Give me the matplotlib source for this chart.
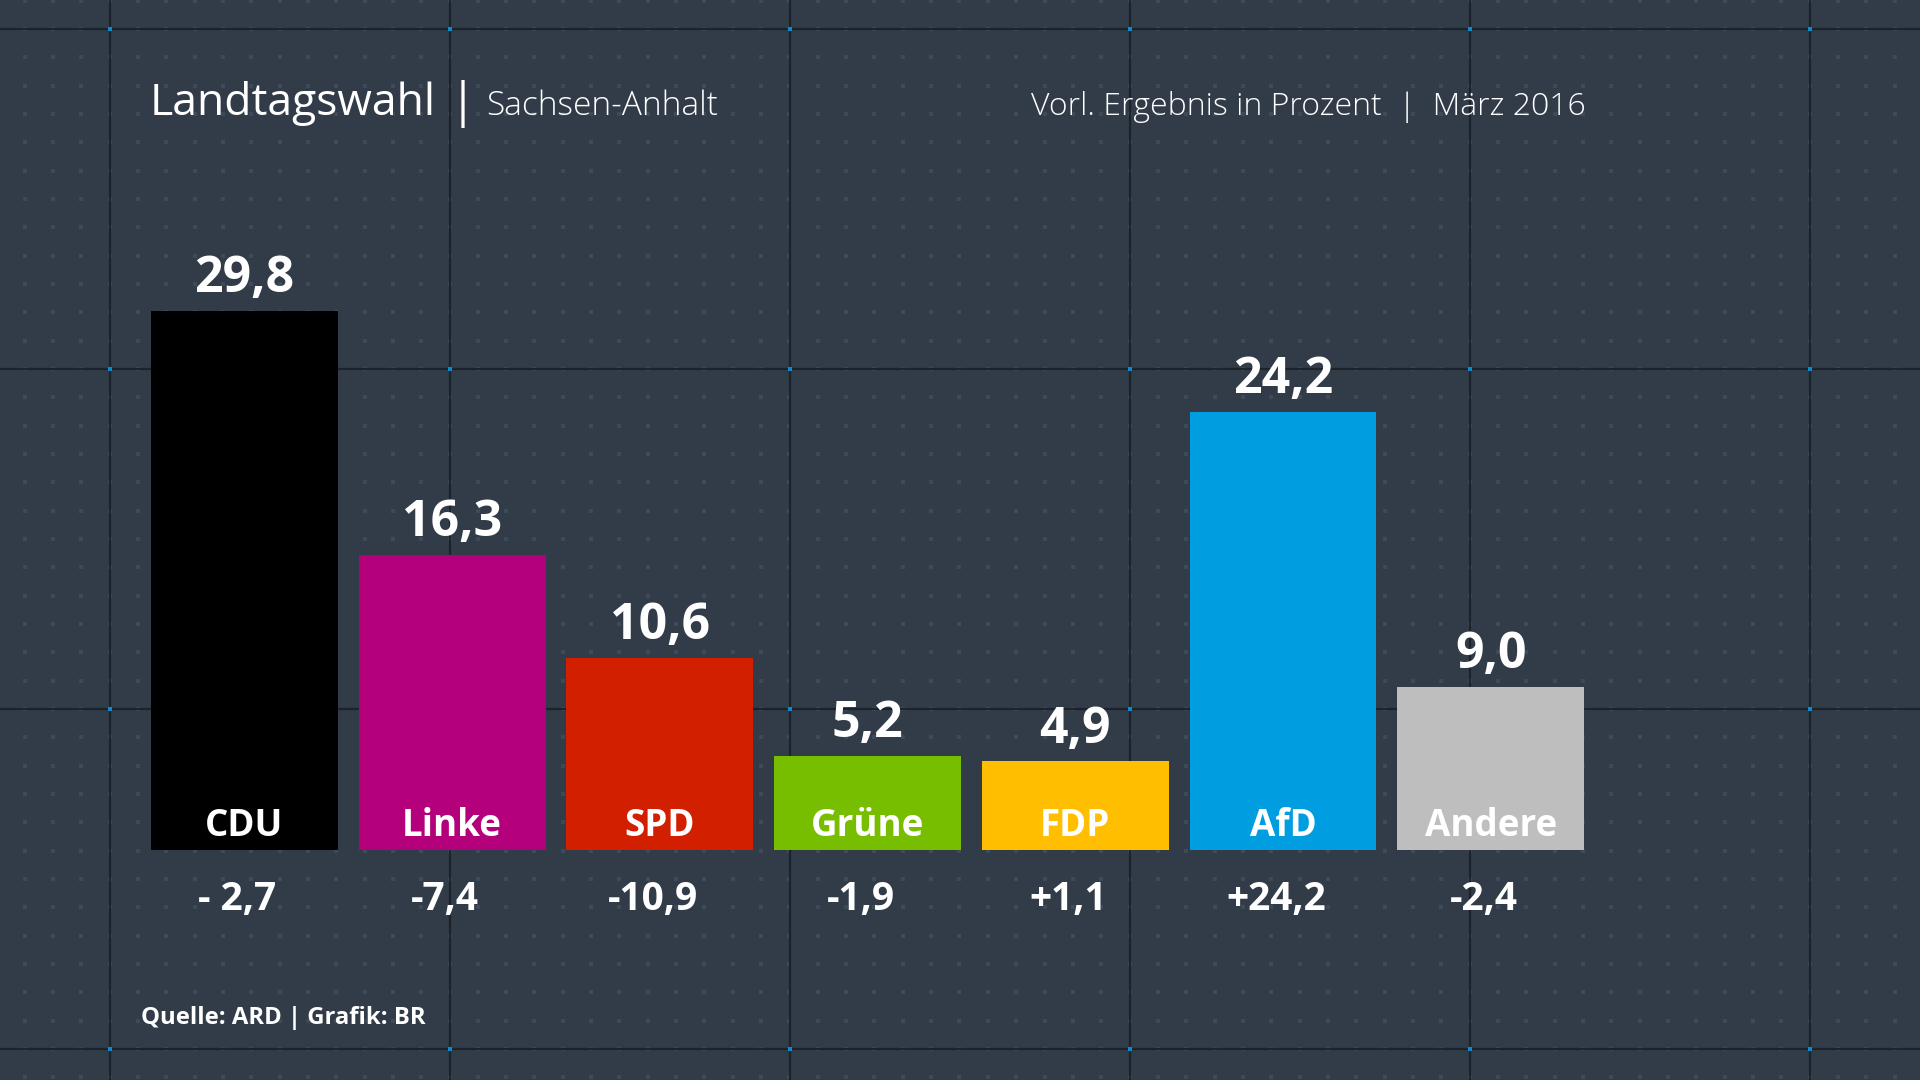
import numpy as np
import matplotlib
matplotlib.use('Agg')
import matplotlib.pyplot as plt

# data
parties = ['CDU', 'Linke', 'SPD', 'Grüne', 'FDP', 'AfD', 'Andere']
results = [29.8, 16.3, 10.6, 5.2, 4.9, 24.2, 9.0]
changes = ['- 2,7', '-7,4', '-10,9', '-1,9', '+1,1', '+24,2', '-2,4']
colors = ['#000000', '#b4007a', '#d11f00', '#77bd00', '#ffbe00', '#009ee0', '#bebebe']

BG = '#323c48'
FONT = 'Open Sans'
W, H = 1920, 1080

fig = plt.figure(figsize=(19.2, 10.8), dpi=100)
fig.patch.set_facecolor(BG)

# ---- background: dotted pattern, grid lines, blue crossings (pixel coords)
bg = fig.add_axes([0, 0, 1, 1])
bg.set_xlim(0, W)
bg.set_ylim(H, 0)
bg.axis('off')
bg.set_facecolor(BG)

step = 340
x0, y0 = 109.5, 29
dx = step / 12
dot_x = np.arange(x0 - 4 * dx, W + dx, dx)
dot_y = np.arange(y0 - dx, H + dx, dx)
gx, gy = np.meshgrid(dot_x, dot_y)
bg.scatter(gx.ravel(), gy.ravel(), s=6, marker='s', color='#3f4a58',
           linewidths=0, zorder=1)

line_x = np.arange(x0, W, step)
line_y = np.arange(y0, H, step)
for lx in line_x:
    bg.axvline(lx, color='#1c232c', lw=1.6, zorder=2)
for ly in line_y:
    bg.axhline(ly, color='#1c232c', lw=1.6, zorder=2)
cx, cy = np.meshgrid(line_x, line_y)
bg.scatter(cx.ravel(), cy.ravel(), s=11, marker='s', color='#0a8bd6',
           linewidths=0, zorder=3)

# ---- bar chart
px_per_unit = 18.09
base_px = 850
ymax = 40
bar_step = 207.7
first_center = 244.5
ax = fig.add_axes([(first_center - bar_step / 2) / W, (H - base_px) / H,
                   7 * bar_step / W, ymax * px_per_unit / H])
ax.set_xlim(-0.5, 6.5)
ax.set_ylim(0, ymax)
ax.axis('off')
ax.patch.set_alpha(0)

x = np.arange(len(parties))
ax.bar(x, results, width=0.9, color=colors, zorder=3)

for i, (p, v) in enumerate(zip(parties, results)):
    ax.annotate(f'{v:.1f}'.replace('.', ','), (i, v), xytext=(0, 13.5),
                textcoords='offset points', ha='center', va='baseline',
                fontsize=36, fontweight='bold', color='white', family=FONT)
    ax.annotate(p, (i, 0), xytext=(0, 10), textcoords='offset points',
                ha='center', va='baseline', fontsize=26.5, fontweight='bold',
                color='white', family=FONT)
    ax.annotate(changes[i], (i, 0), xytext=(-5, -43), textcoords='offset points',
                ha='center', va='baseline', fontsize=28, fontweight='bold',
                color='white', family=FONT)

# ---- titles
fig.text(150 / W, 1 - 115 / H, 'Landtagswahl', fontsize=32, color='white',
         family=FONT, ha='left', va='baseline')
fig.text(450 / W, 1 - 117 / H, '|', fontsize=34, color='white',
         family=FONT, ha='left', va='baseline')
fig.text(486 / W, 1 - 115 / H, 'Sachsen-Anhalt', fontsize=24, color='white',
         family=FONT, ha='left', va='baseline', fontweight='light')
fig.text(1586 / W, 1 - 115 / H, 'Vorl. Ergebnis in Prozent  |  März 2016',
         fontsize=23, color='white', family=FONT, ha='right', va='baseline',
         fontweight='light')
fig.text(141 / W, 1 - 1024 / H, 'Quelle: ARD | Grafik: BR', fontsize=17.2,
         color='white', family=FONT, ha='left', va='baseline', fontweight='bold')

fig.savefig('out.png', dpi=100, facecolor=BG)
